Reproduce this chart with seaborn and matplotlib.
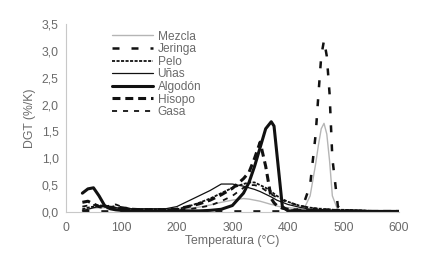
import matplotlib
matplotlib.use("Agg")
import matplotlib.pyplot as plt
from matplotlib.ticker import FuncFormatter
import seaborn as sns
import pandas as pd

# Temperature grid (°C)
T = [30, 40, 50, 60, 70, 80, 90, 100, 120, 140, 160, 180, 200, 220, 240, 260, 280,
     300, 320, 330, 340, 350, 360, 370, 375, 380, 390, 400, 420, 430, 440, 450, 455,
     460, 465, 470, 475, 480, 490, 500, 550, 600]

mezcla = [0.05, 0.06, 0.07, 0.08, 0.08, 0.07, 0.06, 0.05, 0.04, 0.03, 0.03, 0.03, 0.04, 0.06, 0.09, 0.13, 0.18,
          0.22, 0.25, 0.24, 0.22, 0.20, 0.17, 0.14, 0.13, 0.11, 0.09, 0.08, 0.06, 0.08, 0.30, 0.90, 1.25,
          1.55, 1.65, 1.45, 0.95, 0.30, 0.03, 0.02, 0.01, 0.01]
jeringa = [0.02, 0.02, 0.02, 0.01, 0.01, 0.01, 0.01, 0.01, 0.01, 0.01, 0.01, 0.01, 0.01, 0.01, 0.01, 0.01, 0.01,
           0.01, 0.01, 0.01, 0.01, 0.01, 0.01, 0.01, 0.01, 0.01, 0.01, 0.01, 0.05, 0.20, 0.50, 1.45, 2.20,
           2.90, 3.20, 2.90, 2.20, 1.00, 0.10, 0.03, 0.01, 0.00]
pelo = [0.05, 0.08, 0.10, 0.12, 0.12, 0.10, 0.08, 0.06, 0.05, 0.05, 0.05, 0.05, 0.05, 0.10, 0.17, 0.25, 0.35,
        0.45, 0.52, 0.55, 0.55, 0.50, 0.45, 0.38, 0.34, 0.30, 0.24, 0.19, 0.12, 0.10, 0.08, 0.07, 0.06,
        0.06, 0.05, 0.05, 0.05, 0.04, 0.04, 0.04, 0.02, 0.01]
unas = [0.02, 0.05, 0.08, 0.10, 0.10, 0.09, 0.08, 0.07, 0.06, 0.06, 0.06, 0.06, 0.10, 0.20, 0.30, 0.40, 0.52,
        0.52, 0.48, 0.45, 0.42, 0.38, 0.33, 0.28, 0.25, 0.22, 0.18, 0.14, 0.09, 0.07, 0.05, 0.04, 0.04,
        0.03, 0.03, 0.03, 0.03, 0.02, 0.02, 0.02, 0.01, 0.01]
algodon = [0.35, 0.43, 0.45, 0.30, 0.12, 0.06, 0.04, 0.03, 0.02, 0.02, 0.02, 0.02, 0.02, 0.02, 0.02, 0.03, 0.05,
           0.12, 0.35, 0.55, 0.85, 1.20, 1.55, 1.68, 1.60, 1.10, 0.10, 0.02, 0.02, 0.02, 0.02, 0.02, 0.02,
           0.02, 0.02, 0.02, 0.02, 0.02, 0.02, 0.02, 0.01, 0.01]
hisopo = [0.18, 0.20, 0.15, 0.10, 0.08, 0.08, 0.10, 0.08, 0.05, 0.04, 0.04, 0.04, 0.05, 0.10, 0.15, 0.22, 0.32,
          0.44, 0.62, 0.74, 1.00, 1.30, 0.85, 0.25, 0.17, 0.12, 0.07, 0.05, 0.03, 0.03, 0.03, 0.03, 0.03,
          0.03, 0.03, 0.03, 0.03, 0.03, 0.02, 0.02, 0.01, 0.01]
gasa = [0.10, 0.12, 0.13, 0.12, 0.10, 0.12, 0.14, 0.10, 0.05, 0.04, 0.04, 0.04, 0.04, 0.05, 0.08, 0.12, 0.20,
        0.30, 0.45, 0.50, 0.50, 0.47, 0.40, 0.33, 0.30, 0.27, 0.22, 0.18, 0.12, 0.10, 0.08, 0.06, 0.06,
        0.05, 0.05, 0.05, 0.05, 0.04, 0.04, 0.03, 0.02, 0.01]

names = ["Mezcla", "Jeringa", "Pelo", "Uñas", "Algodón", "Hisopo", "Gasa"]
series = [mezcla, jeringa, pelo, unas, algodon, hisopo, gasa]
styles = {
    "Mezcla":  dict(color="#b5b5b5", lw=1.0, ls="-"),
    "Jeringa": dict(color="#111111", lw=1.8, ls=(0, (2.8, 4.8))),
    "Pelo":    dict(color="#111111", lw=1.3, ls=(0, (1.7, 0.8))),
    "Uñas":    dict(color="#111111", lw=0.9, ls="-"),
    "Algodón": dict(color="#111111", lw=2.2, ls="-"),
    "Hisopo":  dict(color="#111111", lw=2.2, ls=(0, (2.6, 1.6))),
    "Gasa":    dict(color="#111111", lw=1.3, ls=(0, (2.8, 3.3))),
}

sns.set_style("white")
plt.rcParams["font.family"] = ["Liberation Sans", "DejaVu Sans"]

fig = plt.figure(figsize=(4.38, 2.76), dpi=100)
ax = fig.add_axes([0.150, 0.232, 0.761, 0.681])

for name, vals in zip(names, series):
    df = pd.DataFrame({"T": T, "v": vals})
    st = styles[name]
    sns.lineplot(data=df, x="T", y="v", ax=ax, color=st["color"], linewidth=st["lw"],
                 linestyle=st["ls"], label=name, sort=True, errorbar=None)

ax.set_xlim(0, 600)
ax.set_ylim(0, 3.5)
ax.set_xticks([0, 100, 200, 300, 400, 500, 600])
ax.set_yticks([0, 0.5, 1.0, 1.5, 2.0, 2.5, 3.0, 3.5])
ax.yaxis.set_major_formatter(FuncFormatter(lambda v, p: f"{v:.1f}".replace(".", ",")))

gray = "#6a6a6a"
for s in ["top", "right"]:
    ax.spines[s].set_visible(False)
for s in ["left", "bottom"]:
    ax.spines[s].set_color("#c8c8c8")
    ax.spines[s].set_linewidth(0.8)
ax.tick_params(axis="y", length=3, width=0.8, color="#c8c8c8", labelsize=8.8, labelcolor=gray, pad=2)
ax.tick_params(axis="x", length=0, labelsize=8.8, labelcolor=gray, pad=7)

ax.set_xlabel("Temperatura (°C)", fontsize=8.8, color=gray, labelpad=1)
ax.set_ylabel("DGT (%/K)", fontsize=8.8, color=gray, labelpad=4)

leg = ax.legend(loc="upper left", bbox_to_anchor=(0.125, 0.99), frameon=False,
                fontsize=8.6, handlelength=3.4, handletextpad=0.4, labelspacing=0.05,
                borderaxespad=0.0)
for t in leg.get_texts():
    t.set_color(gray)

fig.savefig("out.png", dpi=100, facecolor="white")
